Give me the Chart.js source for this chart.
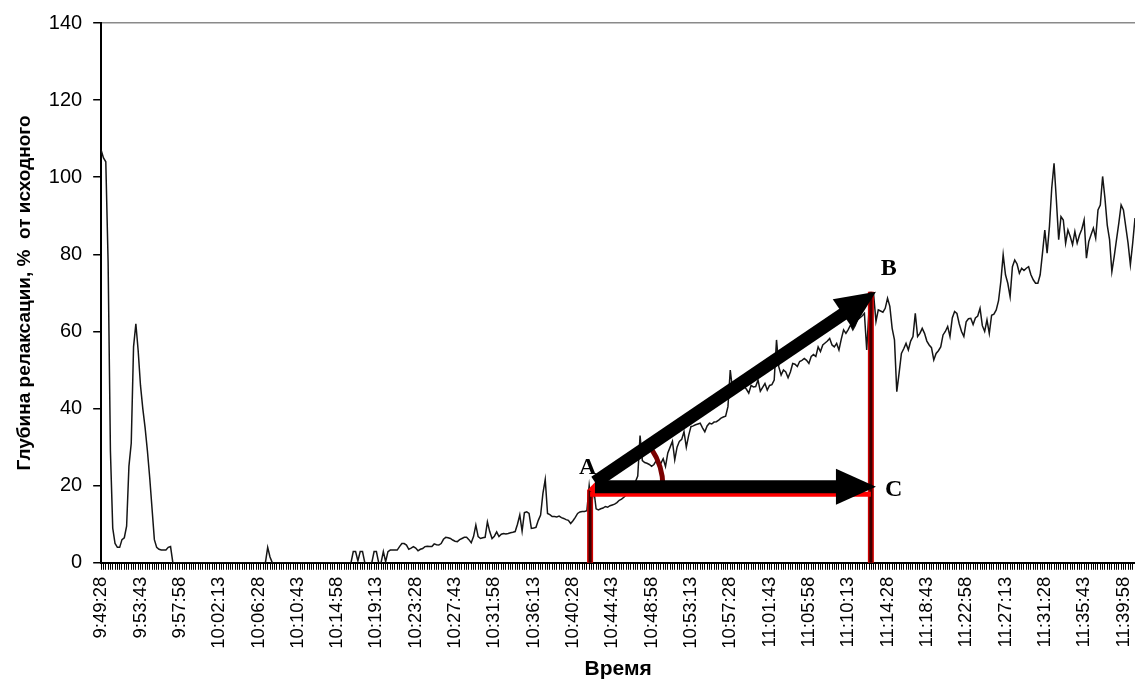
<!DOCTYPE html>
<html><head><meta charset="utf-8">
<script src="https://cdn.jsdelivr.net/npm/chart.js@4.4.1/dist/chart.umd.min.js"></script>
<style>html,body{margin:0;padding:0;background:#fff;overflow:hidden}</style>
</head><body>
<canvas id="c" width="1135" height="682" style="display:block;width:1135px;height:682px"></canvas>
<script>
// ---- data ----
const tickLabels = ['9:49:28','9:53:43','9:57:58','10:02:13','10:06:28','10:10:43','10:14:58','10:19:13','10:23:28','10:27:43','10:31:58','10:36:13','10:40:28','10:44:43','10:48:58','10:53:13','10:57:28','11:01:43','11:05:58','11:10:13','11:14:28','11:18:43','11:22:58','11:27:13','11:31:28','11:35:43','11:39:58'];
const startSeconds = 9*3600 + 49*60 + 28;   // 9:49:28
const stepSeconds = 15;
const labelEvery = 17;
const yTicks = [0,20,40,60,80,100,120,140];

const values = [
107,105,104,78,29,9,5,4,4,6,
6.5,9.5,25,31,56,62,55,46,40,35,
29,22,14,6,4,3.5,3.3,3.3,3.3,4,
4.2,0,0,0,0,0,0,0,0,0,
0,0,0,0,0,0,0,0,0,0,
0,0,0,0,0,0,0,0,0,0,
0,0,0,0,0,0,0,0,0,0,
0,0,4,1.5,0,0,0,0,0,0,
0,0,0,0,0,0,0,0,0,0,
0,0,0,0,0,0,0,0,0,0,
0,0,0,0,0,0,0,0,0,2.9,
2.9,0.5,2.9,2.9,0,0,0,0,2.9,2.9,
0,0,2.9,0.3,2.9,3.3,3.3,3.3,3.3,4.2,
5,5,4.6,3.5,3.8,4.2,3.8,3.1,3.5,3.7,
4.2,4.3,4.2,4.2,4.9,4.7,4.6,5,6.1,6.6,
6.5,6.3,5.9,5.6,5.5,6,6.3,6.6,6.6,6,
5.2,6.8,9.8,6.8,6.3,6.5,6.6,10.6,8.1,6.3,
6.9,8,6.8,7.4,7.6,7.5,7.6,7.8,7.9,8.1,
10,12.4,8.2,13,13.2,12.8,8.9,9,9.2,11,
12.4,18,21.6,12.8,12.5,12,12,11.9,12.1,11.7,
11.5,11.2,11,10.2,10.9,11.8,12.8,13.2,13.3,13.3,
13.5,20,15,19,14,13.7,14,14.2,14.6,14.4,
14.8,15,15.2,15.6,16.2,16.5,17,17.6,18.2,18.8,
19.5,21,22.5,33,26.5,26,25.8,25.5,25,25.5,
26.5,26,25.8,27,25,28.5,30,31.5,26.7,30,
31.5,32,34,30,33,35.3,35.5,35.8,36,36.2,
35,34,35.5,36.2,36,36.5,36.6,37,37.5,37.8,
38,40.5,50,44.8,45,45.2,45.5,45.5,45.7,45,
44,46,45.6,45.7,47.4,44.5,45.5,46.5,44.8,46,
46.2,47.4,57.8,50.8,48.7,50,49.5,48,49.5,51.7,
51.5,50.9,52.2,52.5,53,52.5,51.7,53.5,54,53.5,
56,54.8,56.5,57,57.5,58.2,56.5,56,56.9,55.2,
58,60.4,59.5,60.5,61.7,60.4,61.5,63,63.5,64,
64.7,55.2,65.6,68.5,69.5,62.6,65.6,65.3,65,66,
68.6,66.5,60.8,57.8,44.4,49.2,54.3,55.5,56.9,55.2,
57.5,58.7,64.7,58.7,59.5,60.8,59.5,57.5,56.5,55.8,
52.6,54.3,55,56,59.1,60,61.3,58.7,63.5,65.2,
64.7,62,60,58.7,62.5,63.3,63.4,61.8,63.5,64,
66,61.5,60,63,59.5,64.2,64.5,65.6,68,73,
79.9,74.7,72.5,69,76.8,78.5,77.5,75.1,76.4,75.8,
76.4,76.8,74.7,73.4,72.5,72.5,74.7,80.3,86.3,80.3,
87.2,97.2,103.6,94.1,83.8,89.8,88.9,82.9,86.3,84.6,
82.5,85.9,82.9,85,86.5,88.9,79,83.3,85.1,86.8,
84.2,91.5,92.8,100.2,94.6,87.6,83.8,75.5,79.4,83.8,
88.1,92.8,91.5,87.2,82.9,77.3,82.9,89.4
];

// annotation anchors, in data units [category index, value]
const pointA = [213.5, 20.9];
const pointB = [335, 70.3];
const pointC = [335, 19.7];
const redVerticals = [[211.4, 19.0], [332.8, 70.3]];
const redBase = {from: 211.4, to: 332.8, value: 17.8};
const letters = [['A', 210.3, 24.6], ['B', 340.5, 76.2], ['C', 342.7, 18.9]];

// categories: one every 15 s from 9:49:28
function fmt(s){const h=Math.floor(s/3600),m=Math.floor(s%3600/60),sec=s%60;return h+':'+String(m).padStart(2,'0')+':'+String(sec).padStart(2,'0');}
const categories = values.map((_, i) => fmt(startSeconds + i*stepSeconds));

const annot = {
  id: 'annot',
  afterDatasetsDraw(chart) {
    const {ctx, scales: {x, y}} = chart;
    const px = i => x.getPixelForValue(i), py = v => y.getPixelForValue(v);
    ctx.save();
    redVerticals.forEach(([i, v]) => {
      ctx.beginPath(); ctx.moveTo(px(i), py(0)); ctx.lineTo(px(i), py(v));
      ctx.strokeStyle = '#d00000'; ctx.lineWidth = 6; ctx.stroke();
      ctx.strokeStyle = '#3c0000'; ctx.lineWidth = 3; ctx.stroke();
    });
    ctx.beginPath();
    ctx.moveTo(px(redBase.from), py(redBase.value)); ctx.lineTo(px(redBase.to), py(redBase.value));
    ctx.strokeStyle = '#ff0000'; ctx.lineWidth = 5; ctx.stroke();
    ctx.beginPath();
    ctx.moveTo(px(redVerticals[0][0]) - 2, py(redVerticals[0][1]));
    ctx.lineTo(px(pointA[0]), py(pointA[1]) );
    ctx.lineTo(px(pointA[0]), py(redBase.value));
    ctx.closePath(); ctx.fillStyle = '#ff0000'; ctx.fill();

    const ax = px(pointA[0]), ay = py(pointA[1]);
    const bx = px(pointB[0]), by = py(pointB[1]);
    const cx = px(pointC[0]), cy = py(pointC[1]);
    const ang = Math.atan2(by - ay, bx - ax);
    ctx.beginPath(); ctx.arc(ax, cy, 68, ang, 0);
    ctx.strokeStyle = '#7a0000'; ctx.lineWidth = 5; ctx.stroke();

    function arrow(x1, y1, x2, y2) {
      const a = Math.atan2(y2 - y1, x2 - x1), L = 40, H = 18;
      const ex = x2 - L*Math.cos(a), ey = y2 - L*Math.sin(a);
      ctx.beginPath(); ctx.moveTo(x1, y1); ctx.lineTo(ex + Math.cos(a), ey + Math.sin(a));
      ctx.strokeStyle = '#000'; ctx.lineWidth = 13; ctx.lineCap = 'butt'; ctx.stroke();
      ctx.beginPath(); ctx.moveTo(x2, y2);
      ctx.lineTo(ex + H*Math.sin(a), ey - H*Math.cos(a));
      ctx.lineTo(ex - H*Math.sin(a), ey + H*Math.cos(a));
      ctx.closePath(); ctx.fillStyle = '#000'; ctx.fill();
    }
    arrow(ax, cy, cx, cy);
    arrow(ax, ay, bx, by);

    ctx.font = 'bold 24px "Liberation Serif", "Times New Roman", serif';
    ctx.fillStyle = '#000'; ctx.textAlign = 'center'; ctx.textBaseline = 'middle';
    letters.forEach(([t, i, v]) => ctx.fillText(t, px(i), py(v)));
    ctx.restore();
  }
};

new Chart(document.getElementById('c'), {
  type: 'line',
  data: { labels: categories, datasets: [{ data: values, borderColor: '#151515', borderWidth: 1.5, pointRadius: 0, tension: 0, fill: false }] },
  options: {
    responsive: false, animation: false, devicePixelRatio: 1,
    layout: { padding: { left: 9, top: 23, right: 0, bottom: 0 } },
    plugins: { legend: { display: false }, tooltip: { enabled: false } },
    scales: {
      x: {
        ticks: { autoSkip: false, minRotation: 90, maxRotation: 90, padding: 7, color: '#000',
          font: { family: '"Liberation Sans", Arial, sans-serif', size: 18.5 },
          callback: (v, i) => (i % labelEvery === 0 ? tickLabels[i / labelEvery] : '') },
        grid: { drawOnChartArea: false, drawTicks: true, tickLength: 7, tickColor: '#000', tickWidth: 1 },
        border: { color: '#000', width: 2 },
        title: { display: true, text: 'Время', color: '#000', padding: { top: 1, bottom: 0 },
          font: { family: '"Liberation Sans", Arial, sans-serif', size: 21, weight: 'bold' } },
        afterFit: s => { s.paddingRight = 0; s.paddingLeft = 0; }
      },
      y: {
        min: 0, max: 140,
        afterBuildTicks: s => { s.ticks = yTicks.map(v => ({ value: v })); },
        ticks: { padding: 11, color: '#000', font: { family: '"Liberation Sans", Arial, sans-serif', size: 20 } },
        grid: { drawTicks: true, tickLength: 8, tickColor: '#000', tickWidth: 1.5,
          color: c => (c.tick && c.tick.value === 140 ? '#8a8a8a' : 'rgba(0,0,0,0)'), lineWidth: 1.5 },
        border: { color: '#000', width: 2 },
        title: { display: true, text: 'Глубина релаксации, %  от исходного', color: '#000', padding: { top: 4, bottom: 2 },
          font: { family: '"Liberation Sans", Arial, sans-serif', size: 19, weight: 'bold' } }
      }
    }
  },
  plugins: [annot]
});
</script>
</body></html>
